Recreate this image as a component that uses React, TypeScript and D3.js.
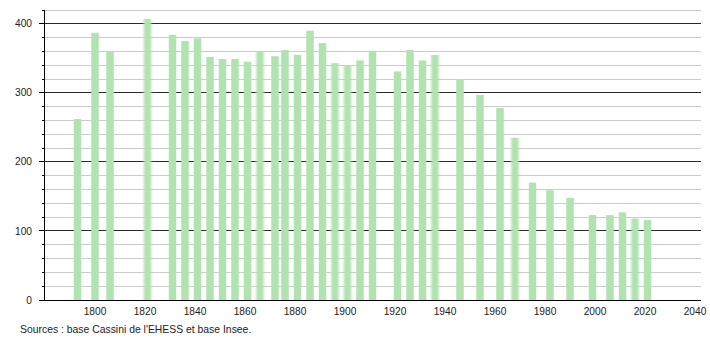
import React from "react";
import * as d3 from "d3";

const years = [1793, 1800, 1806, 1821, 1831, 1836, 1841, 1846, 1851, 1856, 1861, 1866, 1872, 1876, 1881, 1886, 1891, 1896, 1901, 1906, 1911, 1921, 1926, 1931, 1936, 1946, 1954, 1962, 1968, 1975, 1982, 1990, 1999, 2006, 2011, 2016, 2021];
const population = [262, 387, 361, 407, 384, 375, 379, 352, 349, 349, 345, 360, 353, 362, 355, 390, 372, 343, 340, 347, 361, 331, 362, 347, 355, 320, 297, 278, 235, 170, 159, 148, 123, 123, 127, 118, 116];
const softYears = [1821, 1866, 1896, 1901, 1936, 1968, 2016];
const xTicks = [1800, 1820, 1840, 1860, 1880, 1900, 1920, 1940, 1960, 1980, 2000, 2020, 2040];
const yMajor = [0, 100, 200, 300, 400];
const sourceText = "Sources : base Cassini de l'EHESS et base Insee.";

const W = 710;
const H = 340;
const left = 44;
const right = 701;
const top = 10;
const bottom = 300;
const font = "'Liberation Sans', Arial, sans-serif";

export default function App() {
  const x = d3.scaleLinear().domain([1780, 2042]).range([45, 700]);
  const y = d3.scaleLinear().domain([0, 420]).range([bottom, top]);
  const minor = d3.range(0, 421, 20);
  const bw = 7.5;
  const data = years.map((yr, i) => ({ yr, v: population[i] }));
  return (
    <svg width={W} height={H} style={{ position: "absolute", left: 0, top: 0, background: "#fff" }} fontFamily={font}>
      <defs>
        <filter id="soft" x="-50%" y="-5%" width="200%" height="110%">
          <feGaussianBlur stdDeviation="1.1 0.4" />
        </filter>
      </defs>
      <rect width={W} height={H} fill="#fff" />
      {minor.map((v) => (
        <line key={"g" + v} x1={left} x2={right} y1={y(v)} y2={y(v)}
          stroke={v % 100 === 0 ? "#2a2a2a" : "#cccccc"} strokeWidth={1} shapeRendering="crispEdges" />
      ))}
      {data.map((d) => (
        <rect key={d.yr} x={x(d.yr) - bw / 2} y={y(d.v)} width={bw} height={bottom - y(d.v)}
          fill="#b0e3b0" filter={softYears.includes(d.yr) ? "url(#soft)" : undefined} />
      ))}
      <line x1={left} x2={left} y1={top} y2={bottom} stroke="#000" shapeRendering="crispEdges" />
      <line x1={39} x2={right} y1={bottom} y2={bottom} stroke="#000" shapeRendering="crispEdges" />
      {minor.map((v) => (
        <line key={"t" + v} x1={v % 100 === 0 ? 39 : 42} x2={left} y1={y(v)} y2={y(v)} stroke="#000" shapeRendering="crispEdges" />
      ))}
      {yMajor.map((v) => (
        <text key={"yl" + v} x={32} y={y(v)} dy="0.35em" textAnchor="end" fontSize={10.2} fill="#222">{v}</text>
      ))}
      {xTicks.map((t) => (
        <text key={"xl" + t} x={x(t)} y={315} textAnchor="middle" fontSize={10.2} fill="#222">{t}</text>
      ))}
      <text x={20} y={333} fontSize={10.4} fill="#222">{sourceText}</text>
    </svg>
  );
}
